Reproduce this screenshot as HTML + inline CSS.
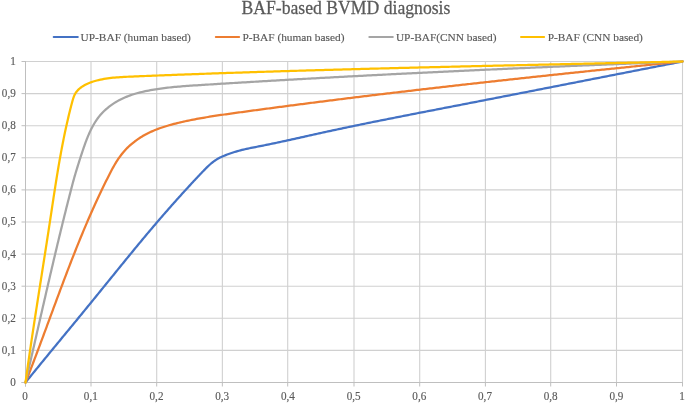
<!DOCTYPE html>
<html><head><meta charset="utf-8"><style>
html,body{margin:0;padding:0;background:#fff;width:685px;height:403px;overflow:hidden}
svg{display:block;will-change:transform}
text{font-kerning:none}
.t{font-family:"Liberation Serif",serif;font-size:12px;fill:#595959;stroke:#595959;stroke-width:0.15px}
.leg{font-family:"Liberation Serif",serif;font-size:11.35px;fill:#595959;stroke:#595959;stroke-width:0.15px}
.title{font-family:"Liberation Serif",serif;font-size:17.5px;fill:#595959;stroke:#595959;stroke-width:0.25px}
</style></head><body>
<svg width="685" height="403" viewBox="0 0 685 403">
<line x1="91.00" y1="61.50" x2="91.00" y2="382.50" stroke="#d0d0d0" stroke-width="1.1"/>
<line x1="156.70" y1="61.50" x2="156.70" y2="382.50" stroke="#d0d0d0" stroke-width="1.1"/>
<line x1="222.35" y1="61.50" x2="222.35" y2="382.50" stroke="#d0d0d0" stroke-width="1.1"/>
<line x1="287.70" y1="61.50" x2="287.70" y2="382.50" stroke="#d0d0d0" stroke-width="1.1"/>
<line x1="354.00" y1="61.50" x2="354.00" y2="382.50" stroke="#d0d0d0" stroke-width="1.1"/>
<line x1="419.70" y1="61.50" x2="419.70" y2="382.50" stroke="#d0d0d0" stroke-width="1.1"/>
<line x1="485.40" y1="61.50" x2="485.40" y2="382.50" stroke="#d0d0d0" stroke-width="1.1"/>
<line x1="550.70" y1="61.50" x2="550.70" y2="382.50" stroke="#d0d0d0" stroke-width="1.1"/>
<line x1="616.50" y1="61.50" x2="616.50" y2="382.50" stroke="#d0d0d0" stroke-width="1.1"/>
<line x1="682.50" y1="61.50" x2="682.50" y2="382.50" stroke="#d0d0d0" stroke-width="1.1"/>
<line x1="25.50" y1="350.40" x2="682.50" y2="350.40" stroke="#d0d0d0" stroke-width="1.1"/>
<line x1="25.50" y1="318.30" x2="682.50" y2="318.30" stroke="#d0d0d0" stroke-width="1.1"/>
<line x1="25.50" y1="286.20" x2="682.50" y2="286.20" stroke="#d0d0d0" stroke-width="1.1"/>
<line x1="25.50" y1="254.10" x2="682.50" y2="254.10" stroke="#d0d0d0" stroke-width="1.1"/>
<line x1="25.50" y1="222.00" x2="682.50" y2="222.00" stroke="#d0d0d0" stroke-width="1.1"/>
<line x1="25.50" y1="189.90" x2="682.50" y2="189.90" stroke="#d0d0d0" stroke-width="1.1"/>
<line x1="25.50" y1="157.80" x2="682.50" y2="157.80" stroke="#d0d0d0" stroke-width="1.1"/>
<line x1="25.50" y1="125.70" x2="682.50" y2="125.70" stroke="#d0d0d0" stroke-width="1.1"/>
<line x1="25.50" y1="93.60" x2="682.50" y2="93.60" stroke="#d0d0d0" stroke-width="1.1"/>
<line x1="25.50" y1="61.50" x2="682.50" y2="61.50" stroke="#d0d0d0" stroke-width="1.1"/>
<line x1="25.50" y1="61.00" x2="25.50" y2="386.50" stroke="#bfbfbf" stroke-width="1"/>
<line x1="21.50" y1="382.50" x2="683.00" y2="382.50" stroke="#bfbfbf" stroke-width="1"/>
<line x1="21.50" y1="382.50" x2="25.50" y2="382.50" stroke="#bfbfbf" stroke-width="1"/>
<line x1="21.50" y1="350.40" x2="25.50" y2="350.40" stroke="#bfbfbf" stroke-width="1"/>
<line x1="21.50" y1="318.30" x2="25.50" y2="318.30" stroke="#bfbfbf" stroke-width="1"/>
<line x1="21.50" y1="286.20" x2="25.50" y2="286.20" stroke="#bfbfbf" stroke-width="1"/>
<line x1="21.50" y1="254.10" x2="25.50" y2="254.10" stroke="#bfbfbf" stroke-width="1"/>
<line x1="21.50" y1="222.00" x2="25.50" y2="222.00" stroke="#bfbfbf" stroke-width="1"/>
<line x1="21.50" y1="189.90" x2="25.50" y2="189.90" stroke="#bfbfbf" stroke-width="1"/>
<line x1="21.50" y1="157.80" x2="25.50" y2="157.80" stroke="#bfbfbf" stroke-width="1"/>
<line x1="21.50" y1="125.70" x2="25.50" y2="125.70" stroke="#bfbfbf" stroke-width="1"/>
<line x1="21.50" y1="93.60" x2="25.50" y2="93.60" stroke="#bfbfbf" stroke-width="1"/>
<line x1="21.50" y1="61.50" x2="25.50" y2="61.50" stroke="#bfbfbf" stroke-width="1"/>
<line x1="25.50" y1="382.50" x2="25.50" y2="386.50" stroke="#bfbfbf" stroke-width="1"/>
<line x1="91.00" y1="382.50" x2="91.00" y2="386.50" stroke="#bfbfbf" stroke-width="1"/>
<line x1="156.70" y1="382.50" x2="156.70" y2="386.50" stroke="#bfbfbf" stroke-width="1"/>
<line x1="222.35" y1="382.50" x2="222.35" y2="386.50" stroke="#bfbfbf" stroke-width="1"/>
<line x1="287.70" y1="382.50" x2="287.70" y2="386.50" stroke="#bfbfbf" stroke-width="1"/>
<line x1="354.00" y1="382.50" x2="354.00" y2="386.50" stroke="#bfbfbf" stroke-width="1"/>
<line x1="419.70" y1="382.50" x2="419.70" y2="386.50" stroke="#bfbfbf" stroke-width="1"/>
<line x1="485.40" y1="382.50" x2="485.40" y2="386.50" stroke="#bfbfbf" stroke-width="1"/>
<line x1="550.70" y1="382.50" x2="550.70" y2="386.50" stroke="#bfbfbf" stroke-width="1"/>
<line x1="616.50" y1="382.50" x2="616.50" y2="386.50" stroke="#bfbfbf" stroke-width="1"/>
<line x1="682.50" y1="382.50" x2="682.50" y2="386.50" stroke="#bfbfbf" stroke-width="1"/>
<path d="M25.50,382.50 L26.47,381.30 L27.44,380.10 L28.42,378.90 L29.39,377.70 L30.36,376.50 L31.34,375.30 L32.31,374.10 L33.28,372.90 L34.26,371.71 L35.24,370.51 L36.21,369.31 L37.19,368.12 L38.16,366.92 L39.14,365.72 L40.12,364.53 L41.10,363.33 L42.08,362.14 L43.06,360.94 L44.03,359.75 L45.01,358.55 L45.99,357.36 L46.97,356.17 L47.95,354.97 L48.93,353.78 L49.91,352.59 L50.89,351.40 L51.88,350.20 L52.86,349.01 L53.84,347.82 L54.82,346.63 L55.80,345.43 L56.78,344.24 L57.76,343.05 L58.75,341.86 L59.73,340.67 L60.71,339.48 L61.69,338.28 L62.67,337.09 L63.66,335.90 L64.64,334.71 L65.62,333.52 L66.60,332.33 L67.58,331.13 L68.57,329.94 L69.55,328.75 L70.53,327.56 L71.51,326.37 L72.49,325.17 L73.47,323.98 L74.46,322.79 L75.44,321.60 L76.42,320.41 L77.40,319.21 L78.38,318.02 L79.36,316.83 L80.34,315.63 L81.32,314.44 L82.30,313.25 L83.28,312.05 L84.26,310.86 L85.23,309.66 L86.21,308.47 L87.19,307.27 L88.17,306.08 L89.14,304.88 L90.12,303.68 L91.10,302.49 L92.07,301.29 L93.05,300.09 L94.02,298.90 L95.00,297.70 L95.97,296.50 L96.95,295.30 L97.92,294.10 L98.90,292.90 L99.87,291.70 L100.84,290.50 L101.81,289.30 L102.79,288.10 L103.76,286.90 L104.73,285.70 L105.71,284.50 L106.68,283.30 L107.65,282.10 L108.62,280.90 L109.60,279.70 L110.57,278.50 L111.54,277.30 L112.51,276.10 L113.49,274.91 L114.46,273.71 L115.43,272.51 L116.41,271.31 L117.38,270.11 L118.35,268.91 L119.33,267.71 L120.30,266.51 L121.28,265.31 L122.25,264.12 L123.23,262.92 L124.20,261.72 L125.18,260.52 L126.16,259.33 L127.13,258.13 L128.11,256.94 L129.09,255.74 L130.07,254.55 L131.05,253.35 L132.03,252.16 L133.01,250.97 L133.99,249.77 L134.97,248.58 L135.95,247.39 L136.94,246.20 L137.92,245.01 L138.91,243.82 L139.89,242.63 L140.88,241.44 L141.87,240.26 L142.85,239.07 L143.84,237.89 L144.83,236.70 L145.82,235.52 L146.82,234.33 L147.81,233.15 L148.80,231.97 L149.80,230.79 L150.79,229.61 L151.79,228.43 L152.79,227.26 L153.79,226.08 L154.79,224.90 L155.79,223.73 L156.79,222.56 L157.80,221.38 L158.80,220.21 L159.81,219.04 L160.82,217.87 L161.83,216.71 L162.84,215.54 L163.85,214.37 L164.86,213.21 L165.88,212.05 L166.90,210.89 L167.91,209.72 L168.93,208.56 L169.95,207.41 L170.97,206.25 L172.00,205.09 L173.02,203.94 L174.05,202.78 L175.07,201.63 L176.10,200.48 L177.13,199.33 L178.16,198.18 L179.20,197.03 L180.23,195.89 L181.27,194.74 L182.30,193.60 L183.34,192.45 L184.38,191.31 L185.42,190.17 L186.47,189.03 L187.51,187.89 L188.56,186.75 L189.61,185.62 L190.66,184.48 L191.71,183.35 L192.76,182.22 L193.81,181.09 L194.87,179.96 L195.93,178.83 L196.99,177.70 L198.05,176.58 L199.11,175.45 L200.17,174.33 L201.24,173.20 L202.31,172.08 L203.38,170.96 L204.45,169.85 L205.53,168.74 L206.62,167.65 L207.72,166.57 L208.84,165.52 L209.97,164.49 L211.13,163.48 L212.31,162.51 L213.52,161.58 L214.76,160.69 L216.03,159.85 L217.34,159.05 L218.68,158.29 L220.04,157.58 L221.43,156.91 L222.84,156.27 L224.27,155.67 L225.71,155.09 L227.17,154.53 L228.63,154.00 L230.10,153.49 L231.57,152.99 L233.04,152.51 L234.52,152.05 L236.00,151.60 L237.49,151.17 L238.97,150.75 L240.46,150.35 L241.96,149.96 L243.45,149.59 L244.95,149.23 L246.45,148.89 L247.96,148.56 L249.47,148.24 L250.98,147.93 L252.49,147.62 L254.00,147.32 L255.52,147.03 L257.03,146.73 L258.54,146.44 L260.06,146.14 L261.57,145.85 L263.09,145.55 L264.60,145.24 L266.11,144.94 L267.62,144.63 L269.14,144.32 L270.65,144.01 L272.16,143.69 L273.67,143.38 L275.18,143.06 L276.69,142.74 L278.20,142.42 L279.71,142.10 L281.22,141.77 L282.73,141.45 L284.24,141.12 L285.75,140.79 L287.25,140.46 L288.76,140.13 L290.27,139.80 L291.78,139.47 L293.29,139.13 L294.79,138.80 L296.30,138.46 L297.81,138.13 L299.32,137.79 L300.83,137.46 L302.33,137.12 L303.84,136.78 L305.35,136.45 L306.86,136.11 L308.36,135.77 L309.87,135.44 L311.38,135.10 L312.89,134.76 L314.39,134.43 L315.90,134.09 L317.41,133.76 L318.92,133.43 L320.43,133.09 L321.94,132.76 L323.45,132.43 L324.95,132.10 L326.46,131.77 L327.97,131.44 L329.48,131.12 L330.99,130.79 L332.50,130.46 L334.01,130.14 L335.52,129.82 L337.03,129.49 L338.54,129.17 L340.05,128.85 L341.56,128.53 L343.08,128.21 L344.59,127.89 L346.10,127.57 L347.61,127.25 L349.12,126.94 L350.63,126.62 L352.14,126.31 L353.66,125.99 L355.17,125.68 L356.68,125.37 L358.19,125.05 L359.71,124.74 L361.22,124.43 L362.73,124.12 L364.24,123.81 L365.76,123.50 L367.27,123.19 L368.78,122.88 L370.30,122.58 L371.81,122.27 L373.32,121.96 L374.84,121.66 L376.35,121.35 L377.86,121.05 L379.38,120.74 L380.89,120.44 L382.41,120.14 L383.92,119.83 L385.44,119.53 L386.95,119.23 L388.46,118.93 L389.98,118.63 L391.49,118.33 L393.01,118.03 L394.52,117.73 L396.04,117.43 L397.55,117.13 L399.07,116.83 L400.58,116.53 L402.10,116.23 L403.61,115.93 L405.13,115.64 L406.64,115.34 L408.16,115.04 L409.67,114.75 L411.19,114.45 L412.71,114.15 L414.22,113.86 L415.74,113.56 L417.25,113.27 L418.77,112.97 L420.28,112.68 L421.80,112.38 L423.32,112.09 L424.83,111.79 L426.35,111.50 L427.86,111.20 L429.38,110.91 L430.89,110.62 L432.41,110.32 L433.93,110.03 L435.44,109.73 L436.96,109.44 L438.47,109.15 L439.99,108.85 L441.51,108.56 L443.02,108.27 L444.54,107.97 L446.06,107.68 L447.57,107.39 L449.09,107.09 L450.60,106.80 L452.12,106.50 L453.64,106.21 L455.15,105.92 L456.67,105.62 L458.18,105.33 L459.70,105.03 L461.22,104.74 L462.73,104.45 L464.25,104.15 L465.76,103.86 L467.28,103.56 L468.79,103.27 L470.31,102.97 L471.83,102.68 L473.34,102.38 L474.86,102.09 L476.37,101.79 L477.89,101.50 L479.41,101.20 L480.92,100.91 L482.44,100.61 L483.95,100.32 L485.47,100.02 L486.99,99.73 L488.50,99.43 L490.02,99.14 L491.53,98.84 L493.05,98.55 L494.56,98.25 L496.08,97.95 L497.60,97.66 L499.11,97.36 L500.63,97.07 L502.14,96.77 L503.66,96.48 L505.17,96.18 L506.69,95.88 L508.21,95.59 L509.72,95.29 L511.24,94.99 L512.75,94.70 L514.27,94.40 L515.78,94.11 L517.30,93.81 L518.82,93.51 L520.33,93.22 L521.85,92.92 L523.36,92.62 L524.88,92.33 L526.39,92.03 L527.91,91.74 L529.42,91.44 L530.94,91.14 L532.46,90.85 L533.97,90.55 L535.49,90.25 L537.00,89.96 L538.52,89.66 L540.03,89.36 L541.55,89.07 L543.06,88.77 L544.58,88.47 L546.10,88.18 L547.61,87.88 L549.13,87.58 L550.64,87.29 L552.16,86.99 L553.67,86.69 L555.19,86.39 L556.70,86.10 L558.22,85.80 L559.74,85.50 L561.25,85.21 L562.77,84.91 L564.28,84.61 L565.80,84.32 L567.31,84.02 L568.83,83.72 L570.34,83.43 L571.86,83.13 L573.38,82.83 L574.89,82.53 L576.41,82.24 L577.92,81.94 L579.44,81.64 L580.95,81.35 L582.47,81.05 L583.98,80.75 L585.50,80.46 L587.02,80.16 L588.53,79.86 L590.05,79.56 L591.56,79.27 L593.08,78.97 L594.59,78.67 L596.11,78.38 L597.62,78.08 L599.14,77.78 L600.66,77.49 L602.17,77.19 L603.69,76.89 L605.20,76.60 L606.72,76.30 L608.23,76.00 L609.75,75.71 L611.26,75.41 L612.78,75.11 L614.30,74.81 L615.81,74.52 L617.33,74.22 L618.84,73.92 L620.36,73.63 L621.87,73.33 L623.39,73.04 L624.90,72.74 L626.42,72.44 L627.94,72.15 L629.45,71.85 L630.97,71.55 L632.48,71.26 L634.00,70.96 L635.51,70.66 L637.03,70.37 L638.54,70.07 L640.06,69.77 L641.58,69.48 L643.09,69.18 L644.61,68.89 L646.12,68.59 L647.64,68.29 L649.15,68.00 L650.67,67.70 L652.19,67.41 L653.70,67.11 L655.22,66.82 L656.73,66.52 L658.25,66.22 L659.76,65.93 L661.28,65.63 L662.80,65.34 L664.31,65.04 L665.83,64.75 L667.34,64.45 L668.86,64.16 L670.37,63.86 L671.89,63.56 L673.41,63.27 L674.92,62.97 L676.44,62.68 L677.95,62.38 L679.47,62.09 L680.98,61.79 L682.50,61.50" fill="none" stroke="#4472c4" stroke-width="2.25" stroke-linecap="round" stroke-linejoin="round"/>
<path d="M25.50,382.50 L26.11,380.97 L26.71,379.43 L27.32,377.90 L27.92,376.36 L28.52,374.83 L29.12,373.29 L29.71,371.75 L30.31,370.22 L30.90,368.68 L31.50,367.14 L32.09,365.60 L32.68,364.06 L33.27,362.52 L33.85,360.98 L34.44,359.44 L35.03,357.90 L35.61,356.36 L36.19,354.82 L36.78,353.27 L37.36,351.73 L37.94,350.19 L38.52,348.65 L39.10,347.10 L39.67,345.56 L40.25,344.02 L40.83,342.47 L41.40,340.93 L41.98,339.38 L42.55,337.84 L43.13,336.29 L43.70,334.75 L44.27,333.20 L44.85,331.66 L45.42,330.11 L45.99,328.57 L46.56,327.02 L47.13,325.48 L47.70,323.93 L48.27,322.38 L48.84,320.84 L49.41,319.29 L49.98,317.75 L50.56,316.20 L51.13,314.66 L51.70,313.11 L52.27,311.57 L52.84,310.02 L53.41,308.47 L53.98,306.93 L54.55,305.38 L55.12,303.84 L55.70,302.29 L56.27,300.75 L56.84,299.21 L57.41,297.66 L57.99,296.12 L58.56,294.57 L59.14,293.03 L59.71,291.49 L60.29,289.94 L60.87,288.40 L61.45,286.86 L62.02,285.32 L62.60,283.78 L63.18,282.24 L63.77,280.69 L64.35,279.15 L64.93,277.61 L65.52,276.07 L66.10,274.54 L66.69,273.00 L67.28,271.46 L67.87,269.92 L68.46,268.38 L69.05,266.85 L69.64,265.31 L70.24,263.77 L70.83,262.24 L71.43,260.71 L72.03,259.17 L72.63,257.64 L73.23,256.11 L73.84,254.57 L74.44,253.04 L75.05,251.51 L75.66,249.98 L76.27,248.45 L76.88,246.92 L77.50,245.40 L78.11,243.87 L78.73,242.34 L79.35,240.82 L79.97,239.29 L80.60,237.77 L81.23,236.24 L81.86,234.72 L82.49,233.20 L83.12,231.68 L83.76,230.16 L84.39,228.64 L85.03,227.12 L85.68,225.61 L86.32,224.09 L86.97,222.58 L87.62,221.06 L88.28,219.55 L88.93,218.04 L89.59,216.53 L90.25,215.02 L90.92,213.51 L91.58,212.00 L92.25,210.49 L92.92,208.99 L93.60,207.48 L94.28,205.98 L94.96,204.48 L95.64,202.98 L96.33,201.48 L97.02,199.98 L97.72,198.48 L98.41,196.98 L99.11,195.49 L99.82,193.99 L100.53,192.50 L101.24,191.01 L101.95,189.52 L102.67,188.03 L103.39,186.55 L104.11,185.06 L104.84,183.57 L105.57,182.09 L106.31,180.61 L107.05,179.13 L107.79,177.65 L108.54,176.17 L109.29,174.70 L110.04,173.22 L110.81,171.75 L111.58,170.29 L112.36,168.83 L113.15,167.39 L113.96,165.95 L114.78,164.52 L115.62,163.11 L116.48,161.71 L117.36,160.32 L118.26,158.96 L119.18,157.61 L120.13,156.28 L121.10,154.98 L122.11,153.70 L123.14,152.44 L124.21,151.21 L125.30,150.00 L126.42,148.82 L127.57,147.66 L128.75,146.53 L129.95,145.43 L131.17,144.35 L132.42,143.30 L133.70,142.27 L134.99,141.27 L136.31,140.30 L137.65,139.35 L139.00,138.43 L140.38,137.54 L141.77,136.67 L143.18,135.84 L144.61,135.02 L146.06,134.24 L147.51,133.49 L148.99,132.76 L150.47,132.05 L151.97,131.37 L153.48,130.71 L155.01,130.08 L156.54,129.47 L158.08,128.88 L159.64,128.31 L161.20,127.76 L162.77,127.23 L164.35,126.71 L165.94,126.22 L167.53,125.74 L169.12,125.27 L170.73,124.82 L172.33,124.38 L173.94,123.96 L175.56,123.55 L177.17,123.14 L178.79,122.75 L180.41,122.37 L182.03,122.00 L183.65,121.63 L185.27,121.27 L186.89,120.92 L188.51,120.58 L190.13,120.25 L191.75,119.92 L193.37,119.60 L194.99,119.29 L196.62,118.98 L198.24,118.68 L199.86,118.38 L201.49,118.09 L203.11,117.81 L204.74,117.53 L206.36,117.26 L207.99,116.99 L209.61,116.73 L211.24,116.47 L212.87,116.21 L214.49,115.96 L216.12,115.71 L217.75,115.46 L219.37,115.22 L221.00,114.98 L222.63,114.75 L224.26,114.51 L225.88,114.28 L227.51,114.05 L229.14,113.82 L230.77,113.59 L232.40,113.37 L234.03,113.14 L235.66,112.92 L237.28,112.69 L238.91,112.47 L240.54,112.25 L242.17,112.02 L243.80,111.80 L245.43,111.58 L247.06,111.36 L248.69,111.13 L250.32,110.91 L251.95,110.69 L253.58,110.47 L255.21,110.25 L256.84,110.03 L258.47,109.81 L260.10,109.59 L261.73,109.37 L263.36,109.15 L265.00,108.94 L266.63,108.72 L268.26,108.50 L269.89,108.28 L271.52,108.07 L273.15,107.85 L274.78,107.63 L276.41,107.42 L278.05,107.20 L279.68,106.99 L281.31,106.77 L282.94,106.56 L284.57,106.34 L286.21,106.13 L287.84,105.92 L289.47,105.70 L291.10,105.49 L292.74,105.28 L294.37,105.07 L296.00,104.85 L297.63,104.64 L299.27,104.43 L300.90,104.22 L302.53,104.01 L304.17,103.80 L305.80,103.59 L307.43,103.38 L309.07,103.17 L310.70,102.96 L312.33,102.75 L313.97,102.54 L315.60,102.34 L317.23,102.13 L318.87,101.92 L320.50,101.71 L322.13,101.51 L323.77,101.30 L325.40,101.09 L327.04,100.89 L328.67,100.68 L330.31,100.48 L331.94,100.27 L333.57,100.07 L335.21,99.86 L336.84,99.66 L338.48,99.45 L340.11,99.25 L341.75,99.05 L343.38,98.84 L345.02,98.64 L346.65,98.44 L348.29,98.24 L349.92,98.03 L351.56,97.83 L353.20,97.63 L354.83,97.43 L356.47,97.23 L358.10,97.03 L359.74,96.83 L361.37,96.63 L363.01,96.43 L364.64,96.23 L366.28,96.03 L367.92,95.83 L369.55,95.63 L371.19,95.44 L372.82,95.24 L374.46,95.04 L376.10,94.84 L377.73,94.65 L379.37,94.45 L381.01,94.25 L382.64,94.06 L384.28,93.86 L385.92,93.66 L387.55,93.47 L389.19,93.27 L390.83,93.08 L392.46,92.88 L394.10,92.69 L395.74,92.50 L397.37,92.30 L399.01,92.11 L400.65,91.91 L402.29,91.72 L403.92,91.53 L405.56,91.34 L407.20,91.14 L408.83,90.95 L410.47,90.76 L412.11,90.57 L413.75,90.38 L415.38,90.18 L417.02,89.99 L418.66,89.80 L420.30,89.61 L421.94,89.42 L423.57,89.23 L425.21,89.04 L426.85,88.85 L428.49,88.66 L430.12,88.47 L431.76,88.28 L433.40,88.10 L435.04,87.91 L436.68,87.72 L438.32,87.53 L439.95,87.34 L441.59,87.16 L443.23,86.97 L444.87,86.78 L446.51,86.60 L448.14,86.41 L449.78,86.22 L451.42,86.04 L453.06,85.85 L454.70,85.66 L456.34,85.48 L457.98,85.29 L459.61,85.11 L461.25,84.92 L462.89,84.74 L464.53,84.56 L466.17,84.37 L467.81,84.19 L469.45,84.00 L471.09,83.82 L472.72,83.64 L474.36,83.45 L476.00,83.27 L477.64,83.09 L479.28,82.91 L480.92,82.72 L482.56,82.54 L484.20,82.36 L485.84,82.18 L487.47,82.00 L489.11,81.81 L490.75,81.63 L492.39,81.45 L494.03,81.27 L495.67,81.09 L497.31,80.91 L498.95,80.73 L500.59,80.55 L502.23,80.37 L503.87,80.19 L505.51,80.01 L507.14,79.83 L508.78,79.65 L510.42,79.47 L512.06,79.30 L513.70,79.12 L515.34,78.94 L516.98,78.76 L518.62,78.58 L520.26,78.40 L521.90,78.23 L523.54,78.05 L525.18,77.87 L526.82,77.70 L528.46,77.52 L530.09,77.34 L531.73,77.17 L533.37,76.99 L535.01,76.81 L536.65,76.64 L538.29,76.46 L539.93,76.28 L541.57,76.11 L543.21,75.93 L544.85,75.76 L546.49,75.58 L548.13,75.41 L549.77,75.23 L551.41,75.06 L553.05,74.88 L554.69,74.71 L556.32,74.54 L557.96,74.36 L559.60,74.19 L561.24,74.01 L562.88,73.84 L564.52,73.67 L566.16,73.49 L567.80,73.32 L569.44,73.15 L571.08,72.98 L572.72,72.80 L574.36,72.63 L576.00,72.46 L577.64,72.29 L579.28,72.11 L580.91,71.94 L582.55,71.77 L584.19,71.60 L585.83,71.43 L587.47,71.25 L589.11,71.08 L590.75,70.91 L592.39,70.74 L594.03,70.57 L595.67,70.40 L597.31,70.23 L598.95,70.06 L600.58,69.89 L602.22,69.72 L603.86,69.55 L605.50,69.38 L607.14,69.21 L608.78,69.04 L610.42,68.87 L612.06,68.70 L613.70,68.53 L615.33,68.36 L616.97,68.19 L618.61,68.02 L620.25,67.85 L621.89,67.68 L623.53,67.51 L625.17,67.34 L626.81,67.18 L628.44,67.01 L630.08,66.84 L631.72,66.67 L633.36,66.50 L635.00,66.33 L636.64,66.17 L638.28,66.00 L639.91,65.83 L641.55,65.66 L643.19,65.50 L644.83,65.33 L646.47,65.16 L648.11,64.99 L649.74,64.83 L651.38,64.66 L653.02,64.49 L654.66,64.33 L656.30,64.16 L657.93,63.99 L659.57,63.82 L661.21,63.66 L662.85,63.49 L664.49,63.33 L666.12,63.16 L667.76,62.99 L669.40,62.83 L671.04,62.66 L672.68,62.49 L674.31,62.33 L675.95,62.16 L677.59,62.00 L679.23,61.83 L680.86,61.67 L682.50,61.50" fill="none" stroke="#ed7d31" stroke-width="2.25" stroke-linecap="round" stroke-linejoin="round"/>
<path d="M25.50,382.50 L25.90,380.81 L26.29,379.11 L26.68,377.42 L27.08,375.72 L27.47,374.02 L27.87,372.33 L28.26,370.63 L28.65,368.94 L29.04,367.24 L29.43,365.54 L29.83,363.85 L30.22,362.15 L30.61,360.46 L31.00,358.76 L31.39,357.06 L31.78,355.36 L32.17,353.67 L32.56,351.97 L32.95,350.27 L33.34,348.57 L33.73,346.88 L34.12,345.18 L34.51,343.48 L34.90,341.78 L35.28,340.09 L35.67,338.39 L36.06,336.69 L36.45,334.99 L36.84,333.29 L37.23,331.59 L37.62,329.90 L38.00,328.20 L38.39,326.50 L38.78,324.80 L39.17,323.10 L39.56,321.40 L39.95,319.71 L40.33,318.01 L40.72,316.31 L41.11,314.61 L41.50,312.91 L41.89,311.21 L42.28,309.51 L42.67,307.82 L43.06,306.12 L43.45,304.42 L43.84,302.72 L44.23,301.02 L44.62,299.32 L45.01,297.63 L45.40,295.93 L45.79,294.23 L46.18,292.53 L46.57,290.83 L46.97,289.14 L47.36,287.44 L47.75,285.74 L48.14,284.04 L48.54,282.34 L48.93,280.65 L49.32,278.95 L49.72,277.25 L50.11,275.56 L50.51,273.86 L50.91,272.16 L51.30,270.47 L51.70,268.77 L52.10,267.07 L52.49,265.38 L52.89,263.68 L53.29,261.98 L53.69,260.29 L54.09,258.59 L54.49,256.90 L54.89,255.20 L55.29,253.51 L55.70,251.81 L56.10,250.12 L56.50,248.43 L56.91,246.73 L57.31,245.04 L57.72,243.34 L58.13,241.65 L58.53,239.96 L58.94,238.26 L59.35,236.57 L59.76,234.88 L60.17,233.19 L60.58,231.49 L60.99,229.80 L61.40,228.11 L61.82,226.42 L62.23,224.73 L62.65,223.04 L63.06,221.35 L63.48,219.66 L63.90,217.97 L64.32,216.28 L64.74,214.59 L65.16,212.90 L65.58,211.21 L66.00,209.53 L66.42,207.84 L66.85,206.15 L67.27,204.46 L67.70,202.78 L68.13,201.09 L68.56,199.41 L68.99,197.72 L69.42,196.04 L69.85,194.35 L70.28,192.67 L70.72,190.98 L71.15,189.30 L71.59,187.62 L72.03,185.93 L72.47,184.25 L72.92,182.57 L73.37,180.90 L73.84,179.22 L74.30,177.55 L74.78,175.88 L75.27,174.22 L75.76,172.55 L76.26,170.89 L76.76,169.23 L77.27,167.57 L77.79,165.91 L78.31,164.25 L78.84,162.59 L79.36,160.94 L79.89,159.28 L80.43,157.62 L80.96,155.96 L81.50,154.30 L82.05,152.64 L82.60,150.98 L83.15,149.32 L83.72,147.67 L84.29,146.01 L84.88,144.36 L85.48,142.71 L86.09,141.07 L86.71,139.43 L87.35,137.80 L88.02,136.18 L88.70,134.57 L89.40,132.97 L90.13,131.39 L90.88,129.82 L91.65,128.26 L92.46,126.73 L93.29,125.22 L94.16,123.72 L95.06,122.25 L95.99,120.81 L96.96,119.39 L97.97,118.00 L99.02,116.63 L100.11,115.30 L101.24,114.01 L102.41,112.74 L103.62,111.51 L104.87,110.31 L106.16,109.14 L107.48,108.02 L108.83,106.92 L110.21,105.86 L111.62,104.84 L113.05,103.86 L114.51,102.91 L116.00,102.00 L117.51,101.13 L119.03,100.29 L120.58,99.49 L122.15,98.72 L123.73,97.99 L125.33,97.29 L126.94,96.62 L128.57,95.99 L130.20,95.38 L131.85,94.81 L133.51,94.26 L135.18,93.75 L136.86,93.27 L138.54,92.81 L140.22,92.38 L141.92,91.97 L143.61,91.58 L145.31,91.21 L147.02,90.86 L148.72,90.53 L150.43,90.21 L152.14,89.90 L153.85,89.61 L155.57,89.33 L157.28,89.06 L159.00,88.81 L160.72,88.56 L162.44,88.33 L164.17,88.11 L165.89,87.90 L167.62,87.69 L169.35,87.50 L171.07,87.32 L172.81,87.14 L174.54,86.97 L176.27,86.81 L178.00,86.66 L179.74,86.51 L181.47,86.37 L183.21,86.23 L184.94,86.10 L186.68,85.97 L188.42,85.85 L190.16,85.72 L191.90,85.61 L193.64,85.49 L195.38,85.38 L197.12,85.27 L198.86,85.16 L200.60,85.05 L202.34,84.94 L204.08,84.83 L205.81,84.72 L207.55,84.61 L209.29,84.50 L211.03,84.39 L212.77,84.28 L214.51,84.17 L216.25,84.07 L217.99,83.96 L219.73,83.85 L221.47,83.74 L223.21,83.64 L224.95,83.53 L226.69,83.42 L228.43,83.32 L230.17,83.21 L231.91,83.10 L233.65,83.00 L235.39,82.89 L237.13,82.79 L238.87,82.68 L240.61,82.58 L242.35,82.47 L244.09,82.37 L245.83,82.26 L247.57,82.16 L249.31,82.06 L251.05,81.95 L252.79,81.85 L254.53,81.75 L256.26,81.64 L258.00,81.54 L259.74,81.44 L261.48,81.34 L263.22,81.23 L264.96,81.13 L266.70,81.03 L268.44,80.93 L270.18,80.83 L271.92,80.73 L273.66,80.63 L275.40,80.53 L277.14,80.43 L278.88,80.33 L280.62,80.23 L282.36,80.13 L284.10,80.03 L285.84,79.93 L287.58,79.83 L289.31,79.73 L291.05,79.63 L292.79,79.53 L294.53,79.43 L296.27,79.34 L298.01,79.24 L299.75,79.14 L301.49,79.04 L303.23,78.95 L304.97,78.85 L306.71,78.75 L308.45,78.66 L310.19,78.56 L311.93,78.46 L313.67,78.37 L315.41,78.27 L317.14,78.18 L318.88,78.08 L320.62,77.98 L322.36,77.89 L324.10,77.79 L325.84,77.70 L327.58,77.61 L329.32,77.51 L331.06,77.42 L332.80,77.32 L334.54,77.23 L336.28,77.14 L338.02,77.04 L339.76,76.95 L341.50,76.86 L343.23,76.76 L344.97,76.67 L346.71,76.58 L348.45,76.49 L350.19,76.39 L351.93,76.30 L353.67,76.21 L355.41,76.12 L357.15,76.03 L358.89,75.94 L360.63,75.85 L362.37,75.76 L364.11,75.67 L365.85,75.57 L367.59,75.48 L369.32,75.39 L371.06,75.30 L372.80,75.21 L374.54,75.13 L376.28,75.04 L378.02,74.95 L379.76,74.86 L381.50,74.77 L383.24,74.68 L384.98,74.59 L386.72,74.50 L388.46,74.42 L390.20,74.33 L391.94,74.24 L393.67,74.15 L395.41,74.07 L397.15,73.98 L398.89,73.89 L400.63,73.80 L402.37,73.72 L404.11,73.63 L405.85,73.54 L407.59,73.46 L409.33,73.37 L411.07,73.29 L412.81,73.20 L414.55,73.11 L416.29,73.03 L418.03,72.94 L419.76,72.86 L421.50,72.77 L423.24,72.69 L424.98,72.60 L426.72,72.52 L428.46,72.44 L430.20,72.35 L431.94,72.27 L433.68,72.18 L435.42,72.10 L437.16,72.02 L438.90,71.93 L440.64,71.85 L442.38,71.77 L444.12,71.68 L445.86,71.60 L447.59,71.52 L449.33,71.44 L451.07,71.35 L452.81,71.27 L454.55,71.19 L456.29,71.11 L458.03,71.03 L459.77,70.94 L461.51,70.86 L463.25,70.78 L464.99,70.70 L466.73,70.62 L468.47,70.54 L470.21,70.46 L471.95,70.38 L473.69,70.30 L475.43,70.22 L477.17,70.14 L478.91,70.06 L480.64,69.98 L482.38,69.90 L484.12,69.82 L485.86,69.74 L487.60,69.66 L489.34,69.58 L491.08,69.50 L492.82,69.42 L494.56,69.34 L496.30,69.26 L498.04,69.18 L499.78,69.11 L501.52,69.03 L503.26,68.95 L505.00,68.87 L506.74,68.79 L508.48,68.72 L510.22,68.64 L511.96,68.56 L513.70,68.48 L515.44,68.41 L517.18,68.33 L518.92,68.25 L520.66,68.18 L522.40,68.10 L524.13,68.02 L525.87,67.95 L527.61,67.87 L529.35,67.79 L531.09,67.72 L532.83,67.64 L534.57,67.57 L536.31,67.49 L538.05,67.41 L539.79,67.34 L541.53,67.26 L543.27,67.19 L545.01,67.11 L546.75,67.04 L548.49,66.96 L550.23,66.89 L551.97,66.81 L553.71,66.74 L555.45,66.67 L557.19,66.59 L558.93,66.52 L560.67,66.44 L562.41,66.37 L564.15,66.29 L565.89,66.22 L567.63,66.15 L569.37,66.07 L571.11,66.00 L572.85,65.93 L574.59,65.85 L576.33,65.78 L578.07,65.71 L579.81,65.63 L581.55,65.56 L583.29,65.49 L585.03,65.42 L586.77,65.34 L588.51,65.27 L590.25,65.20 L591.99,65.13 L593.73,65.06 L595.47,64.98 L597.21,64.91 L598.95,64.84 L600.69,64.77 L602.43,64.70 L604.17,64.63 L605.91,64.55 L607.65,64.48 L609.39,64.41 L611.13,64.34 L612.87,64.27 L614.61,64.20 L616.36,64.13 L618.10,64.06 L619.84,63.99 L621.58,63.92 L623.32,63.85 L625.06,63.77 L626.80,63.70 L628.54,63.63 L630.28,63.56 L632.02,63.49 L633.76,63.42 L635.50,63.35 L637.24,63.28 L638.98,63.22 L640.72,63.15 L642.46,63.08 L644.20,63.01 L645.94,62.94 L647.68,62.87 L649.42,62.80 L651.17,62.73 L652.91,62.66 L654.65,62.59 L656.39,62.52 L658.13,62.45 L659.87,62.39 L661.61,62.32 L663.35,62.25 L665.09,62.18 L666.83,62.11 L668.57,62.04 L670.31,61.98 L672.05,61.91 L673.80,61.84 L675.54,61.77 L677.28,61.70 L679.02,61.64 L680.76,61.57 L682.50,61.50" fill="none" stroke="#a5a5a5" stroke-width="2.25" stroke-linecap="round" stroke-linejoin="round"/>
<path d="M25.50,382.50 L25.75,380.70 L26.00,378.90 L26.25,377.10 L26.50,375.31 L26.75,373.51 L27.00,371.71 L27.26,369.91 L27.51,368.12 L27.77,366.32 L28.02,364.52 L28.28,362.72 L28.54,360.93 L28.80,359.13 L29.06,357.34 L29.32,355.54 L29.59,353.74 L29.85,351.95 L30.11,350.15 L30.38,348.36 L30.64,346.56 L30.91,344.77 L31.18,342.97 L31.44,341.18 L31.71,339.38 L31.98,337.59 L32.25,335.79 L32.52,334.00 L32.79,332.21 L33.07,330.41 L33.34,328.62 L33.61,326.82 L33.89,325.03 L34.16,323.24 L34.43,321.44 L34.71,319.65 L34.99,317.86 L35.26,316.06 L35.54,314.27 L35.81,312.48 L36.09,310.68 L36.37,308.89 L36.65,307.10 L36.93,305.31 L37.20,303.51 L37.48,301.72 L37.76,299.93 L38.04,298.13 L38.32,296.34 L38.60,294.55 L38.88,292.76 L39.16,290.96 L39.44,289.17 L39.72,287.38 L40.00,285.59 L40.28,283.79 L40.57,282.00 L40.85,280.21 L41.13,278.42 L41.41,276.62 L41.69,274.83 L41.97,273.04 L42.25,271.25 L42.53,269.45 L42.81,267.66 L43.09,265.87 L43.37,264.08 L43.65,262.28 L43.94,260.49 L44.22,258.70 L44.50,256.90 L44.78,255.11 L45.05,253.32 L45.33,251.53 L45.61,249.73 L45.89,247.94 L46.17,246.15 L46.45,244.35 L46.73,242.56 L47.00,240.77 L47.28,238.97 L47.56,237.18 L47.83,235.38 L48.11,233.59 L48.38,231.80 L48.66,230.00 L48.93,228.21 L49.21,226.41 L49.48,224.62 L49.75,222.82 L50.02,221.03 L50.30,219.23 L50.57,217.44 L50.84,215.64 L51.11,213.85 L51.38,212.05 L51.65,210.26 L51.92,208.46 L52.19,206.67 L52.46,204.87 L52.73,203.08 L53.00,201.28 L53.28,199.49 L53.55,197.69 L53.82,195.90 L54.10,194.10 L54.37,192.31 L54.65,190.51 L54.93,188.72 L55.21,186.92 L55.49,185.13 L55.77,183.34 L56.06,181.54 L56.35,179.75 L56.63,177.96 L56.92,176.17 L57.22,174.38 L57.51,172.58 L57.81,170.79 L58.11,169.00 L58.41,167.21 L58.71,165.42 L59.02,163.63 L59.33,161.85 L59.64,160.06 L59.96,158.27 L60.28,156.48 L60.60,154.70 L60.93,152.91 L61.26,151.13 L61.59,149.34 L61.93,147.56 L62.27,145.78 L62.61,144.00 L62.96,142.21 L63.31,140.43 L63.67,138.65 L64.03,136.88 L64.40,135.10 L64.77,133.32 L65.14,131.54 L65.52,129.77 L65.90,127.99 L66.29,126.22 L66.69,124.45 L67.09,122.68 L67.49,120.91 L67.90,119.14 L68.32,117.37 L68.74,115.60 L69.16,113.83 L69.60,112.07 L70.04,110.30 L70.48,108.54 L70.93,106.78 L71.39,105.02 L71.85,103.26 L72.32,101.50 L72.81,99.75 L73.33,98.02 L73.94,96.34 L74.65,94.72 L75.50,93.19 L76.51,91.76 L77.65,90.41 L78.92,89.17 L80.28,88.01 L81.73,86.93 L83.24,85.95 L84.80,85.04 L86.42,84.20 L88.07,83.43 L89.77,82.73 L91.49,82.10 L93.25,81.51 L95.02,80.99 L96.81,80.50 L98.61,80.07 L100.41,79.67 L102.21,79.30 L104.01,78.97 L105.82,78.67 L107.62,78.40 L109.42,78.15 L111.22,77.93 L113.03,77.73 L114.83,77.56 L116.63,77.40 L118.43,77.26 L120.24,77.14 L122.04,77.02 L123.84,76.92 L125.65,76.83 L127.45,76.75 L129.25,76.67 L131.06,76.59 L132.86,76.52 L134.67,76.44 L136.47,76.37 L138.28,76.30 L140.09,76.22 L141.89,76.15 L143.70,76.08 L145.51,76.00 L147.32,75.93 L149.12,75.86 L150.93,75.79 L152.74,75.72 L154.55,75.65 L156.36,75.57 L158.17,75.50 L159.98,75.43 L161.79,75.36 L163.60,75.29 L165.42,75.22 L167.23,75.15 L169.04,75.08 L170.85,75.01 L172.66,74.95 L174.48,74.88 L176.29,74.81 L178.10,74.74 L179.91,74.67 L181.73,74.61 L183.54,74.54 L185.36,74.47 L187.17,74.40 L188.98,74.34 L190.80,74.27 L192.61,74.21 L194.43,74.14 L196.24,74.07 L198.06,74.01 L199.87,73.94 L201.69,73.88 L203.50,73.81 L205.32,73.75 L207.13,73.69 L208.95,73.62 L210.76,73.56 L212.58,73.49 L214.39,73.43 L216.21,73.37 L218.02,73.31 L219.84,73.24 L221.65,73.18 L223.47,73.12 L225.29,73.06 L227.10,72.99 L228.92,72.93 L230.73,72.87 L232.55,72.81 L234.36,72.75 L236.18,72.69 L237.99,72.63 L239.81,72.57 L241.62,72.51 L243.44,72.45 L245.25,72.39 L247.07,72.33 L248.88,72.27 L250.70,72.21 L252.51,72.15 L254.33,72.10 L256.14,72.04 L257.96,71.98 L259.77,71.92 L261.59,71.86 L263.40,71.81 L265.22,71.75 L267.03,71.69 L268.85,71.64 L270.66,71.58 L272.48,71.52 L274.29,71.47 L276.11,71.41 L277.92,71.35 L279.74,71.30 L281.55,71.24 L283.37,71.19 L285.18,71.13 L287.00,71.08 L288.81,71.02 L290.63,70.97 L292.44,70.91 L294.25,70.86 L296.07,70.81 L297.88,70.75 L299.70,70.70 L301.51,70.64 L303.33,70.59 L305.14,70.54 L306.96,70.49 L308.77,70.43 L310.59,70.38 L312.40,70.33 L314.22,70.28 L316.03,70.22 L317.84,70.17 L319.66,70.12 L321.47,70.07 L323.29,70.02 L325.10,69.96 L326.92,69.91 L328.73,69.86 L330.54,69.81 L332.36,69.76 L334.17,69.71 L335.99,69.66 L337.80,69.61 L339.62,69.56 L341.43,69.51 L343.25,69.46 L345.06,69.41 L346.87,69.36 L348.69,69.31 L350.50,69.26 L352.32,69.21 L354.13,69.17 L355.94,69.12 L357.76,69.07 L359.57,69.02 L361.39,68.97 L363.20,68.92 L365.02,68.88 L366.83,68.83 L368.64,68.78 L370.46,68.73 L372.27,68.68 L374.09,68.64 L375.90,68.59 L377.71,68.54 L379.53,68.50 L381.34,68.45 L383.16,68.40 L384.97,68.36 L386.78,68.31 L388.60,68.26 L390.41,68.22 L392.23,68.17 L394.04,68.12 L395.86,68.08 L397.67,68.03 L399.48,67.99 L401.30,67.94 L403.11,67.90 L404.93,67.85 L406.74,67.81 L408.55,67.76 L410.37,67.72 L412.18,67.67 L414.00,67.63 L415.81,67.58 L417.62,67.54 L419.44,67.49 L421.25,67.45 L423.06,67.40 L424.88,67.36 L426.69,67.32 L428.51,67.27 L430.32,67.23 L432.13,67.18 L433.95,67.14 L435.76,67.10 L437.58,67.05 L439.39,67.01 L441.20,66.97 L443.02,66.92 L444.83,66.88 L446.65,66.84 L448.46,66.79 L450.27,66.75 L452.09,66.71 L453.90,66.66 L455.72,66.62 L457.53,66.58 L459.34,66.54 L461.16,66.49 L462.97,66.45 L464.78,66.41 L466.60,66.37 L468.41,66.32 L470.23,66.28 L472.04,66.24 L473.85,66.20 L475.67,66.16 L477.48,66.11 L479.30,66.07 L481.11,66.03 L482.92,65.99 L484.74,65.95 L486.55,65.91 L488.37,65.86 L490.18,65.82 L491.99,65.78 L493.81,65.74 L495.62,65.70 L497.44,65.66 L499.25,65.62 L501.06,65.58 L502.88,65.53 L504.69,65.49 L506.50,65.45 L508.32,65.41 L510.13,65.37 L511.95,65.33 L513.76,65.29 L515.57,65.25 L517.39,65.21 L519.20,65.17 L521.02,65.13 L522.83,65.08 L524.64,65.04 L526.46,65.00 L528.27,64.96 L530.09,64.92 L531.90,64.88 L533.71,64.84 L535.53,64.80 L537.34,64.76 L539.16,64.72 L540.97,64.68 L542.78,64.64 L544.60,64.60 L546.41,64.56 L548.23,64.52 L550.04,64.48 L551.86,64.44 L553.67,64.40 L555.48,64.36 L557.30,64.32 L559.11,64.28 L560.93,64.24 L562.74,64.20 L564.55,64.16 L566.37,64.12 L568.18,64.08 L570.00,64.03 L571.81,63.99 L573.62,63.95 L575.44,63.91 L577.25,63.87 L579.07,63.83 L580.88,63.79 L582.70,63.75 L584.51,63.71 L586.32,63.67 L588.14,63.63 L589.95,63.59 L591.77,63.55 L593.58,63.51 L595.40,63.47 L597.21,63.43 L599.02,63.39 L600.84,63.35 L602.65,63.31 L604.47,63.27 L606.28,63.23 L608.10,63.19 L609.91,63.15 L611.73,63.11 L613.54,63.07 L615.35,63.03 L617.17,62.99 L618.98,62.95 L620.80,62.91 L622.61,62.87 L624.43,62.82 L626.24,62.78 L628.06,62.74 L629.87,62.70 L631.68,62.66 L633.50,62.62 L635.31,62.58 L637.13,62.54 L638.94,62.50 L640.76,62.46 L642.57,62.42 L644.39,62.37 L646.20,62.33 L648.02,62.29 L649.83,62.25 L651.65,62.21 L653.46,62.17 L655.28,62.13 L657.09,62.09 L658.91,62.04 L660.72,62.00 L662.54,61.96 L664.35,61.92 L666.17,61.88 L667.98,61.84 L669.79,61.79 L671.61,61.75 L673.42,61.71 L675.24,61.67 L677.05,61.63 L678.87,61.58 L680.68,61.54 L682.50,61.50" fill="none" stroke="#ffc000" stroke-width="2.25" stroke-linecap="round" stroke-linejoin="round"/>
<text transform="translate(15.8,385.90) scale(0.93,1)" text-anchor="end" class="t">0</text>
<text transform="translate(15.8,353.80) scale(0.93,1)" text-anchor="end" class="t">0,1</text>
<text transform="translate(15.8,321.70) scale(0.93,1)" text-anchor="end" class="t">0,2</text>
<text transform="translate(15.8,289.60) scale(0.93,1)" text-anchor="end" class="t">0,3</text>
<text transform="translate(15.8,257.50) scale(0.93,1)" text-anchor="end" class="t">0,4</text>
<text transform="translate(15.8,225.40) scale(0.93,1)" text-anchor="end" class="t">0,5</text>
<text transform="translate(15.8,193.30) scale(0.93,1)" text-anchor="end" class="t">0,6</text>
<text transform="translate(15.8,161.20) scale(0.93,1)" text-anchor="end" class="t">0,7</text>
<text transform="translate(15.8,129.10) scale(0.93,1)" text-anchor="end" class="t">0,8</text>
<text transform="translate(15.8,97.00) scale(0.93,1)" text-anchor="end" class="t">0,9</text>
<text transform="translate(15.8,64.90) scale(0.93,1)" text-anchor="end" class="t">1</text>
<text transform="translate(25.10,399.6) scale(0.93,1)" text-anchor="middle" class="t">0</text>
<text transform="translate(90.80,399.6) scale(0.93,1)" text-anchor="middle" class="t">0,1</text>
<text transform="translate(156.50,399.6) scale(0.93,1)" text-anchor="middle" class="t">0,2</text>
<text transform="translate(222.20,399.6) scale(0.93,1)" text-anchor="middle" class="t">0,3</text>
<text transform="translate(287.90,399.6) scale(0.93,1)" text-anchor="middle" class="t">0,4</text>
<text transform="translate(353.60,399.6) scale(0.93,1)" text-anchor="middle" class="t">0,5</text>
<text transform="translate(419.30,399.6) scale(0.93,1)" text-anchor="middle" class="t">0,6</text>
<text transform="translate(485.00,399.6) scale(0.93,1)" text-anchor="middle" class="t">0,7</text>
<text transform="translate(550.70,399.6) scale(0.93,1)" text-anchor="middle" class="t">0,8</text>
<text transform="translate(616.40,399.6) scale(0.93,1)" text-anchor="middle" class="t">0,9</text>
<text transform="translate(682.10,399.6) scale(0.93,1)" text-anchor="middle" class="t">1</text>
<text transform="translate(345.9,13.5) scale(1.01,1.08)" text-anchor="middle" class="title">BAF-based BVMD diagnosis</text>
<line x1="53.70" y1="37.1" x2="77.80" y2="37.1" stroke="#4472c4" stroke-width="2.0" stroke-linecap="round"/>
<text x="80.6" y="40.7" class="leg">UP-BAF (human based)</text>
<line x1="215.80" y1="37.1" x2="239.10" y2="37.1" stroke="#ed7d31" stroke-width="2.0" stroke-linecap="round"/>
<text x="242.4" y="40.7" class="leg">P-BAF (human based)</text>
<line x1="369.30" y1="37.1" x2="392.80" y2="37.1" stroke="#a5a5a5" stroke-width="2.0" stroke-linecap="round"/>
<text x="395.9" y="40.7" class="leg">UP-BAF(CNN based)</text>
<line x1="521.00" y1="37.1" x2="544.10" y2="37.1" stroke="#ffc000" stroke-width="2.0" stroke-linecap="round"/>
<text x="547.7" y="40.7" class="leg">P-BAF (CNN based)</text>
</svg>
</body></html>
